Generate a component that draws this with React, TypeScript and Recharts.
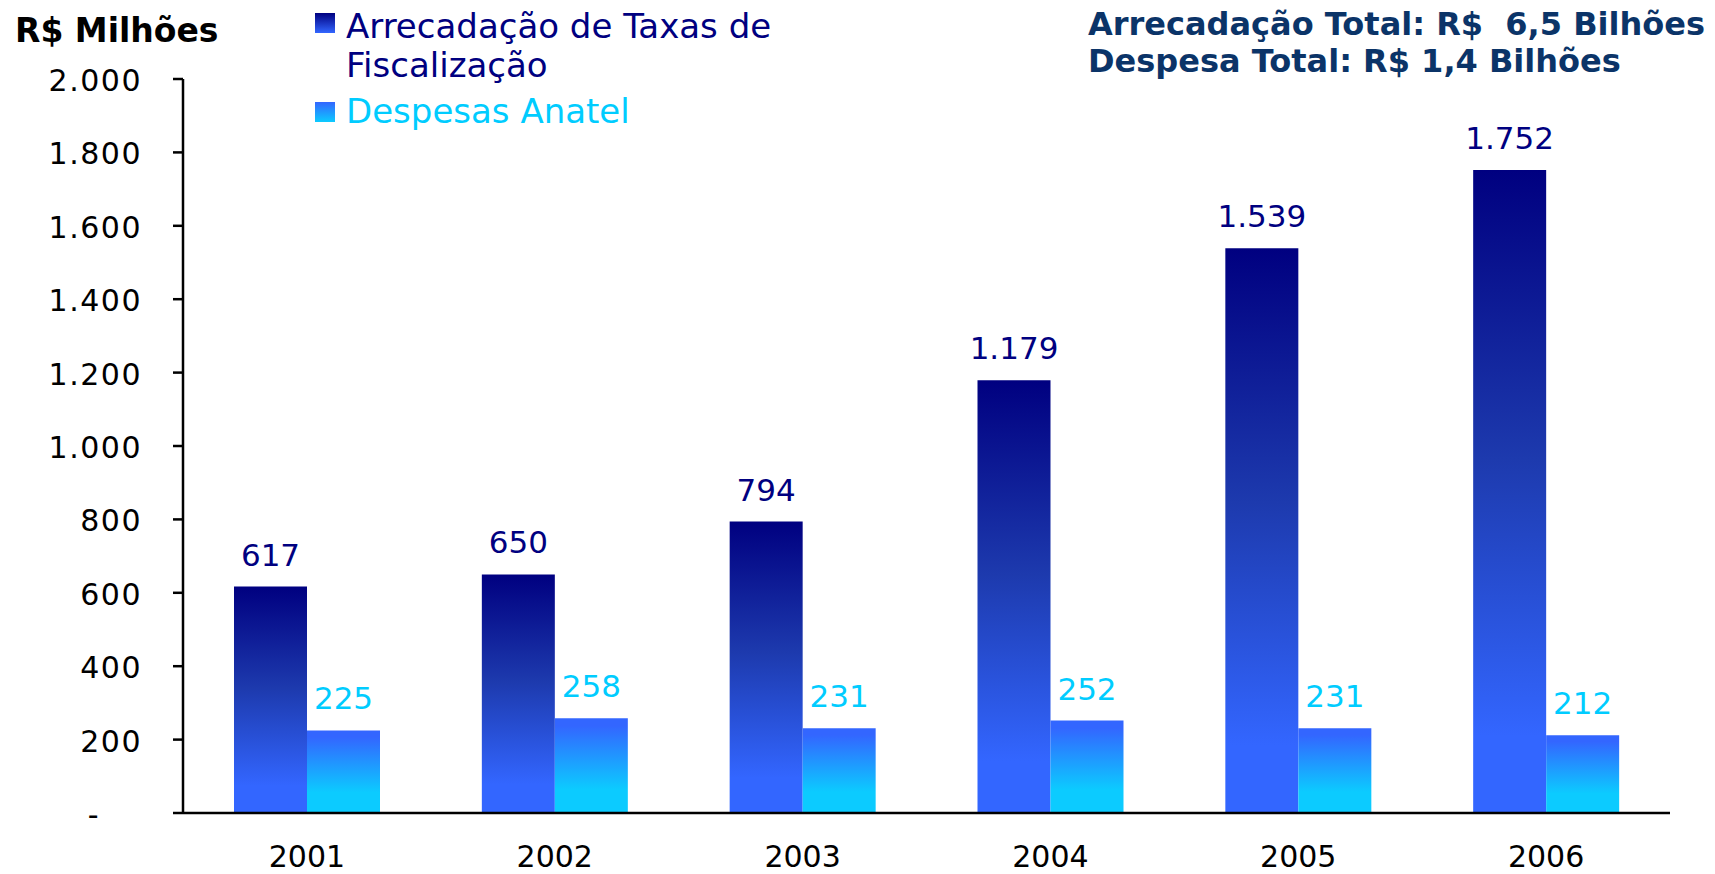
import React from "react";
import { BarChart, Bar, XAxis, YAxis, LabelList } from "recharts";

const years = ["2001", "2002", "2003", "2004", "2005", "2006"];
const arrecadacao = [617, 650, 794, 1179, 1539, 1752];
const despesas = [225, 258, 231, 252, 231, 212];
const yTicks = [0, 200, 400, 600, 800, 1000, 1200, 1400, 1600, 1800, 2000];

const data = years.map((year, i) => ({
  year,
  arrecadacao: arrecadacao[i],
  despesas: despesas[i],
}));

const FONT = "'DejaVu Sans', Verdana, sans-serif";
const NAVY = "#000080";
const CYAN = "#00CCFF";

// 1752 -> "1.752"
const fmt = (v: any) => String(v).replace(/\B(?=(\d{3})+(?!\d))/g, ".");

const YTick = (props: any) => {
  const { x, y, payload } = props;
  const v = payload.value;
  return (
    <text
      x={v === 0 ? x - 42 : x}
      y={y}
      dy={12}
      textAnchor="end"
      fontSize={30}
      fontFamily={FONT}
      fill="#000"
      style={{ letterSpacing: 1.5 }}
    >
      {v === 0 ? "-" : fmt(v)}
    </text>
  );
};

// baseline -> top for an html line with line-height 1
const top = (baseline: number, fs: number) => baseline - 0.846 * fs;

const App = () => {
  return (
    <div
      style={{
        position: "absolute",
        left: 0,
        top: 0,
        width: 1715,
        height: 874,
        background: "#fff",
        fontFamily: FONT,
      }}
    >
      <BarChart
        width={1715}
        height={874}
        data={data}
        margin={{ top: 79, right: 45, bottom: 0, left: 0 }}
        barGap={0}
      >
        <defs>
          <linearGradient id="gradArrec" x1="0" y1="0" x2="0" y2="1">
            <stop offset="0%" stopColor="#000080" />
            <stop offset="45%" stopColor="#1d3aae" />
            <stop offset="88%" stopColor="#3366FF" />
            <stop offset="100%" stopColor="#3366FF" />
          </linearGradient>
          <linearGradient id="gradDesp" x1="0" y1="0" x2="0" y2="1">
            <stop offset="8%" stopColor="#3366FF" />
            <stop offset="75%" stopColor="#0CCBFF" />
            <stop offset="100%" stopColor="#0CCBFF" />
          </linearGradient>
        </defs>
        <XAxis
          dataKey="year"
          height={61}
          tickLine={false}
          tickSize={0}
          tickMargin={33}
          axisLine={{ stroke: "#000", strokeWidth: 2.5 }}
          tick={{ fill: "#000", fontSize: 30, fontFamily: FONT }}
        />
        <YAxis
          width={183}
          domain={[0, 2000]}
          ticks={yTicks}
          interval={0}
          tickSize={10}
          tickMargin={31}
          axisLine={{ stroke: "#000", strokeWidth: 2.5 }}
          tickLine={{ stroke: "#000", strokeWidth: 2.5 }}
          tick={<YTick />}
        />
        <Bar
          dataKey="arrecadacao"
          fill="url(#gradArrec)"
          barSize={73}
          isAnimationActive={false}
        >
          <LabelList
            dataKey="arrecadacao"
            position="top"
            offset={21}
            formatter={fmt}
            fill={NAVY}
            fontSize={31}
            fontFamily={FONT}
          />
        </Bar>
        <Bar
          dataKey="despesas"
          fill="url(#gradDesp)"
          barSize={73}
          isAnimationActive={false}
        >
          <LabelList
            dataKey="despesas"
            position="top"
            offset={21}
            formatter={fmt}
            fill={CYAN}
            fontSize={31}
            fontFamily={FONT}
          />
        </Bar>
      </BarChart>

      {/* unit title */}
      <div
        style={{
          position: "absolute",
          left: 15,
          top: top(42, 33),
          fontSize: 33,
          lineHeight: "33px",
          fontWeight: "bold",
          color: "#000",
          whiteSpace: "pre",
        }}
      >
        R$ Milhões
      </div>

      {/* legend */}
      <div
        style={{
          position: "absolute",
          left: 315,
          top: 13,
          width: 20,
          height: 20,
          background: "linear-gradient(#000080, #3366FF)",
        }}
      />
      <div
        style={{
          position: "absolute",
          left: 346,
          top: top(36, 34),
          fontSize: 34,
          lineHeight: "39px",
          color: NAVY,
          whiteSpace: "pre",
        }}
      >
        {"Arrecadação de Taxas de\nFiscalização"}
      </div>
      <div
        style={{
          position: "absolute",
          left: 315,
          top: 102,
          width: 20,
          height: 20,
          background: "linear-gradient(#3366FF, #0CCBFF)",
        }}
      />
      <div
        style={{
          position: "absolute",
          left: 346,
          top: top(123, 34),
          fontSize: 34,
          lineHeight: "34px",
          color: CYAN,
          whiteSpace: "pre",
        }}
      >
        Despesas Anatel
      </div>

      {/* totals */}
      <div
        style={{
          position: "absolute",
          left: 1088,
          top: top(33, 32),
          fontSize: 32,
          lineHeight: "37px",
          fontWeight: "bold",
          color: "#0B3468",
          whiteSpace: "pre",
        }}
      >
        {"Arrecadação Total: R$  6,5 Bilhões\nDespesa Total: R$ 1,4 Bilhões"}
      </div>
    </div>
  );
};

export default App;
